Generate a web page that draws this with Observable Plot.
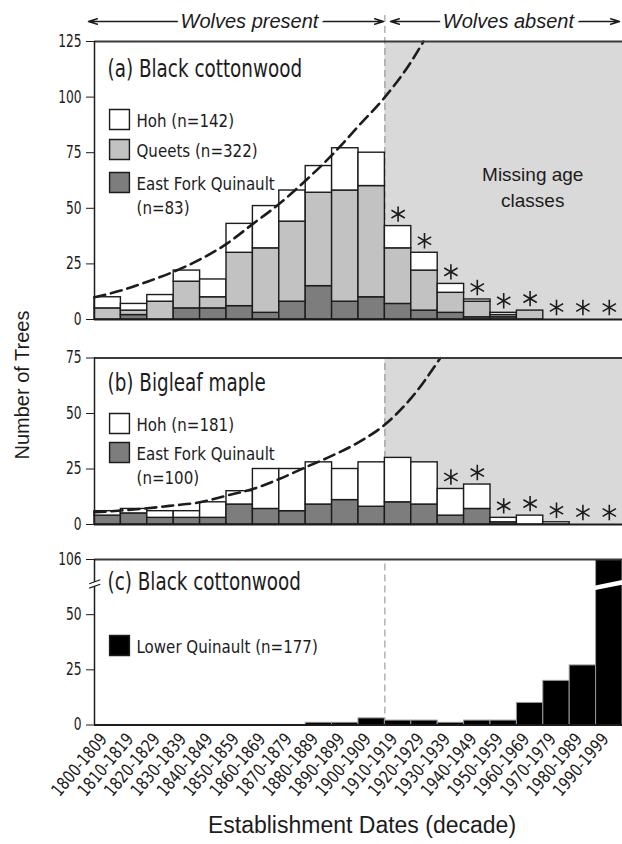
<!DOCTYPE html>
<html>
<head>
<meta charset="utf-8">
<script src="https://cdn.jsdelivr.net/npm/d3@7"></script>
<script src="https://cdn.jsdelivr.net/npm/@observablehq/plot@0.6"></script>
<style>
  html, body { margin: 0; padding: 0; background: #fff; }
  #chart { position: relative; width: 622px; height: 844px; overflow: hidden; background: #fff; }
  #chart svg { position: absolute; left: 0; }
  .lbl { position: absolute; font-family: "Liberation Sans", Arial, Helvetica, sans-serif; color: #1c1c1c; white-space: nowrap; }
</style>
</head>
<body>
<div id="chart"></div>
<script>
// ---------------- data ----------------
const decadeStart = [1800, 1810, 1820, 1830, 1840, 1850, 1860, 1870, 1880, 1890,
                     1900, 1910, 1920, 1930, 1940, 1950, 1960, 1970, 1980, 1990];
const decadeLabels = ["1800-1809", "1810-1819", "1820-1829", "1830-1839", "1840-1849",
                      "1850-1859", "1860-1869", "1870-1879", "1880-1889", "1890-1899",
                      "1900-1909", "1910-1919", "1920-1929", "1930-1939", "1940-1949",
                      "1950-1959", "1960-1969", "1970-1979", "1980-1989", "1990-1999"];

// (a) Black cottonwood
const cottonHoh    = [5, 3, 3, 5, 8, 13, 19, 14, 12, 19, 15, 10, 8, 4, 1, 1, 0, 0, 0, 0];
const cottonQueets = [5, 2, 8, 12, 5, 24, 29, 36, 42, 50, 50, 25, 18, 9, 7, 1, 4, 0, 0, 0];
const cottonEFQ    = [0, 2, 0, 5, 5, 6, 3, 8, 15, 8, 10, 7, 4, 3, 1, 1, 0, 0, 0, 0];
const cottonStars  = [1910, 1920, 1930, 1940, 1950, 1960, 1970, 1980, 1990];
const cottonTrendYear  = [1800, 1810, 1820, 1830, 1840, 1850, 1860, 1870, 1880, 1890, 1900, 1910, 1920, 1924.6];
const cottonTrendValue = [10, 13, 17, 21.5, 27, 34, 43, 52, 62.5, 74, 87, 100, 116, 125];

// (b) Bigleaf maple
const mapleHoh   = [2, 2, 3, 3, 7, 6, 18, 19, 19, 14, 20, 20, 19, 12, 11, 2, 4, 1, 0, 0];
const mapleEFQ   = [4, 5, 3, 3, 3, 9, 7, 6, 9, 11, 8, 10, 9, 4, 7, 1, 0, 0, 0, 0];
const mapleStars = [1930, 1940, 1950, 1960, 1970, 1980, 1990];
const mapleTrendYear  = [1800, 1810, 1820, 1830, 1840, 1850, 1860, 1870, 1880, 1890, 1900, 1910, 1920, 1931];
const mapleTrendValue = [5.5, 6.3, 7.3, 8.6, 10, 13, 16, 20.5, 25.8, 31, 37, 45, 57, 75];

// (c) Black cottonwood, Lower Quinault
const lowerQuinault = [0, 0, 0, 0, 0, 0, 0, 0, 1, 1, 3, 2, 2, 1, 2, 2, 10, 20, 27, 106];

const panelTitles = ["(a) Black cottonwood", "(b) Bigleaf maple", "(c) Black cottonwood"];
const legendA = ["Hoh (n=142)", "Queets (n=322)", "East Fork Quinault\n(n=83)"];
const legendB = ["Hoh (n=181)", "East Fork Quinault\n(n=100)"];
const legendC = ["Lower Quinault (n=177)"];
const yTicksA = [0, 25, 50, 75, 100, 125];
const yTicksB = [0, 25, 50, 75];
const yTicksC = [0, 25, 50, 75];
const yTickLabelsC = ["0", "25", "50", "106"];
const wolfYear = 1910;
const headerTexts = ["Wolves present", "Wolves absent"];
const missingText = "Missing age\nclasses";
const xTitle = "Establishment Dates (decade)";
const yTitle = "Number of Trees";

// ---------------- styling ----------------
const COND = '"Liberation Sans Narrow", "Arial Narrow", "DejaVu Sans Condensed", sans-serif';
const SANS = '"Liberation Sans", Arial, Helvetica, sans-serif';
const INK = "#1c1c1c";
const C_HOH = "#ffffff", C_QUEETS = "#c2c2c2", C_EFQ = "#7d7d7d", C_LOWER = "#000000";
const GRAY = "#d9d9d9";
const TITLE_SIZE = 24, LEGEND_SIZE = 18, XTICK_SIZE = 17.5;
const SQUEEZE = {[TITLE_SIZE]: 0.85, [LEGEND_SIZE]: 0.93, [XTICK_SIZE]: 0.88, axis: 0.8};
const chart = document.getElementById("chart");

function rowsFrom(series) {
  const rows = [];
  decadeStart.forEach((d, i) => series.forEach(s => rows.push({decade: d, key: s.key, fill: s.fill, value: s.values[i]})));
  return rows;
}
function totalsOf(series) { return decadeStart.map((d, i) => d3.sum(series, s => s.values[i])); }

// narrow the condensed-font texts so they resemble a condensed face
function squeeze(svg) {
  svg.querySelectorAll("text").forEach(t => {
    const famEl = t.closest("[font-family]");
    if (famEl && famEl.getAttribute("font-family") === SANS) return;
    const sizeEl = t.closest("[font-size]");
    const size = sizeEl ? parseFloat(sizeEl.getAttribute("font-size")) : NaN;
    const f = SQUEEZE[size] ?? SQUEEZE.axis;
    const spans = t.querySelectorAll("tspan");
    const targets = spans.length ? Array.from(spans) : [t];
    targets.forEach(el => {
      const L = el.getComputedTextLength();
      if (L > 0) { el.setAttribute("textLength", (L * f).toFixed(2)); el.setAttribute("lengthAdjust", "spacingAndGlyphs"); }
    });
  });
}

function legendMarks(title, labels, fills, titleDy, rowDys) {
  const out = [Plot.text([title], {frameAnchor: "top-left", dx: 13, dy: titleDy, textAnchor: "start",
    lineAnchor: "middle", fontSize: TITLE_SIZE, fill: INK})];
  labels.forEach((label, i) => {
    out.push(Plot.dot([label], {frameAnchor: "top-left", dx: 25, dy: rowDys[i], symbol: "square", r: 11.2,
      fill: fills[i], stroke: INK, strokeWidth: 1.4}));
    const n = label.split("\n").length;
    out.push(Plot.text([label], {frameAnchor: "top-left", dx: 42, dy: rowDys[i] + (n - 1) * 12, textAnchor: "start",
      lineAnchor: "middle", lineHeight: 1.33, fontSize: LEGEND_SIZE, fill: INK}));
  });
  return out;
}

function panel({top, height, marginTop, marginBottom, yMax, ticks, tickFormat, marks}) {
  const svg = Plot.plot({
    width: 622, height, marginLeft: 94, marginRight: 0, marginTop, marginBottom,
    style: {background: "transparent", fontFamily: COND, fontSize: "17px", color: INK, overflow: "visible"},
    x: {domain: [1800, 2000], axis: null},
    y: {domain: [0, yMax], ticks, tickFormat, tickSize: 8, tickPadding: 5, label: null},
    color: {type: "identity"},
    marks
  });
  svg.style.top = top + "px";
  chart.appendChild(svg);
  squeeze(svg);
}

const dashed = {stroke: "#8a8a8a", strokeWidth: 1, strokeDasharray: "7,4"};
const trendStyle = {curve: "monotone-x", stroke: INK, strokeWidth: 2.6, strokeDasharray: "11,6"};
const starStyle = {symbol: "asterisk", r: 7.3, fill: "none", stroke: INK, strokeWidth: 1.6, dy: -12};
const barStyle = {x1: "decade", x2: d => d.decade + 10, y: "value", z: "key", fill: "fill", stroke: INK, strokeWidth: 1.4};

// ---------------- panel (a) ----------------
const seriesA = [
  {key: "efq", values: cottonEFQ, fill: C_EFQ},
  {key: "queets", values: cottonQueets, fill: C_QUEETS},
  {key: "hoh", values: cottonHoh, fill: C_HOH}
];
const totA = totalsOf(seriesA);
const headY = 134;
const headArrows = [
  {x1: 1858.7, x2: 1797.7}, {x1: 1858.7, x2: 1909.5},
  {x1: 1956.8, x2: 1912.1}, {x1: 1956.8, x2: 1998.9}
];
const headLabels = [{x: 1858.7, t: headerTexts[0]}, {x: 1956.8, t: headerTexts[1]}];

panel({
  top: 0, height: 321, marginTop: 41, marginBottom: 2, yMax: 125, ticks: yTicksA,
  marks: [
    Plot.rect([{x1: wolfYear, x2: 2000, y1: 0, y2: 125}], {x1: "x1", x2: "x2", y1: "y1", y2: "y2", fill: GRAY}),
    Plot.ruleX([wolfYear], {y1: 0, y2: 137, ...dashed}),
    Plot.rectY(rowsFrom(seriesA), barStyle),
    Plot.line(cottonTrendYear.map((y, i) => ({year: y, value: cottonTrendValue[i]})), {x: "year", y: "value", ...trendStyle}),
    Plot.dot(cottonStars, {x: d => d + 5, y: d => totA[decadeStart.indexOf(d)], ...starStyle}),
    Plot.text([{x: 1966, y: 60, t: missingText}], {x: "x", y: "y", text: "t", fontFamily: SANS, fontSize: 19, lineHeight: 1.35, fill: INK}),
    ...legendMarks(panelTitles[0], legendA, [C_HOH, C_QUEETS, C_EFQ], 28, [78, 108, 141]),
    Plot.ruleY([0], {stroke: INK, strokeWidth: 2}),
    Plot.ruleY([125], {stroke: "#3a3a3a", strokeWidth: 2}),
    Plot.ruleX([1800], {y1: 0, y2: 125, stroke: INK, strokeWidth: 1.5}),
    Plot.arrow(headArrows, {x1: "x1", x2: "x2", y1: () => headY, y2: () => headY, stroke: INK, strokeWidth: 1.4, headLength: 10, headAngle: 34}),
    Plot.text(headLabels, {x: "x", y: () => headY, text: "t", fontFamily: SANS, fontStyle: "italic", fontSize: 20, fill: "white", stroke: "white", strokeWidth: 10}),
    Plot.text(headLabels, {x: "x", y: () => headY, text: "t", fontFamily: SANS, fontStyle: "italic", fontSize: 20, fill: INK})
  ]
});

// ---------------- panel (b) ----------------
const seriesB = [
  {key: "efq", values: mapleEFQ, fill: C_EFQ},
  {key: "hoh", values: mapleHoh, fill: C_HOH}
];
const totB = totalsOf(seriesB);
panel({
  top: 320, height: 206, marginTop: 37.5, marginBottom: 2, yMax: 75, ticks: yTicksB,
  marks: [
    Plot.rect([{x1: wolfYear, x2: 2000, y1: 0, y2: 75}], {x1: "x1", x2: "x2", y1: "y1", y2: "y2", fill: GRAY}),
    Plot.ruleX([wolfYear], {y1: 0, y2: 75, ...dashed}),
    Plot.rectY(rowsFrom(seriesB), barStyle),
    Plot.line(mapleTrendYear.map((y, i) => ({year: y, value: mapleTrendValue[i]})), {x: "year", y: "value", ...trendStyle}),
    Plot.dot(mapleStars, {x: d => d + 5, y: d => totB[decadeStart.indexOf(d)], ...starStyle}),
    ...legendMarks(panelTitles[1], legendB, [C_HOH, C_EFQ], 25.5, [65.5, 94.5]),
    Plot.ruleY([0], {stroke: INK, strokeWidth: 2}),
    Plot.ruleY([75], {stroke: "#3a3a3a", strokeWidth: 2}),
    Plot.ruleX([1800], {y1: 0, y2: 75, stroke: INK, strokeWidth: 1.5})
  ]
});

// ---------------- panel (c) ----------------
const rowsC = lowerQuinault.map((v, i) => ({decade: decadeStart[i], key: "lower", fill: C_LOWER, value: v}));
const barBreak = [{x1: 1987.6, y1: 61.7, x2: 2000, y2: 64.7}];
const axisBreak = [{x1: 1798, y1: 63.0, x2: 1802.2, y2: 64.8}];
panel({
  top: 526, height: 288.5, marginTop: 33, marginBottom: 90, yMax: 75, ticks: yTicksC,
  tickFormat: d => yTickLabelsC[yTicksC.indexOf(d)],
  marks: [
    Plot.ruleX([wolfYear], {y1: 0, y2: 75, ...dashed}),
    Plot.rectY(rowsC, {...barStyle, stroke: "#9a9a9a", strokeWidth: 1, clip: true}),
    Plot.link(barBreak, {x1: "x1", y1: "y1", x2: "x2", y2: "y2", stroke: "white", strokeWidth: 4.5}),
    ...legendMarks(panelTitles[2], legendC, [C_LOWER], 23, [86]),
    Plot.ruleY([0], {stroke: INK, strokeWidth: 2}),
    Plot.ruleY([75], {stroke: "#3a3a3a", strokeWidth: 2}),
    Plot.ruleX([1800], {y1: 0, y2: 75, stroke: INK, strokeWidth: 1.5}),
    Plot.link(axisBreak, {x1: "x1", y1: "y1", x2: "x2", y2: "y2", stroke: "white", strokeWidth: 4}),
    Plot.link(axisBreak, {x1: "x1", y1: "y1", x2: "x2", y2: "y2", stroke: INK, strokeWidth: 1.2, dy: -2.2}),
    Plot.link(axisBreak, {x1: "x1", y1: "y1", x2: "x2", y2: "y2", stroke: INK, strokeWidth: 1.2, dy: 2.2}),
    Plot.text(decadeLabels.map((t, i) => ({x: decadeStart[i] + 5, t})), {x: "x", y: () => 0, text: "t", rotate: -50,
      textAnchor: "end", lineAnchor: "middle", fontSize: XTICK_SIZE, dy: 11, dx: -4, fill: INK})
  ]
});

// ---------------- axis titles ----------------
const xt = document.createElement("div");
xt.className = "lbl";
xt.textContent = xTitle;
Object.assign(xt.style, {left: "62px", width: "600px", textAlign: "center", top: "812px", fontSize: "23px", lineHeight: "26px"});
chart.appendChild(xt);

const yt = document.createElement("div");
yt.className = "lbl";
yt.textContent = yTitle;
Object.assign(yt.style, {left: "-78px", width: "200px", textAlign: "center", top: "372px", fontSize: "20px", lineHeight: "26px",
  transform: "rotate(-90deg)", transformOrigin: "50% 50%"});
chart.appendChild(yt);
</script>
</body>
</html>
